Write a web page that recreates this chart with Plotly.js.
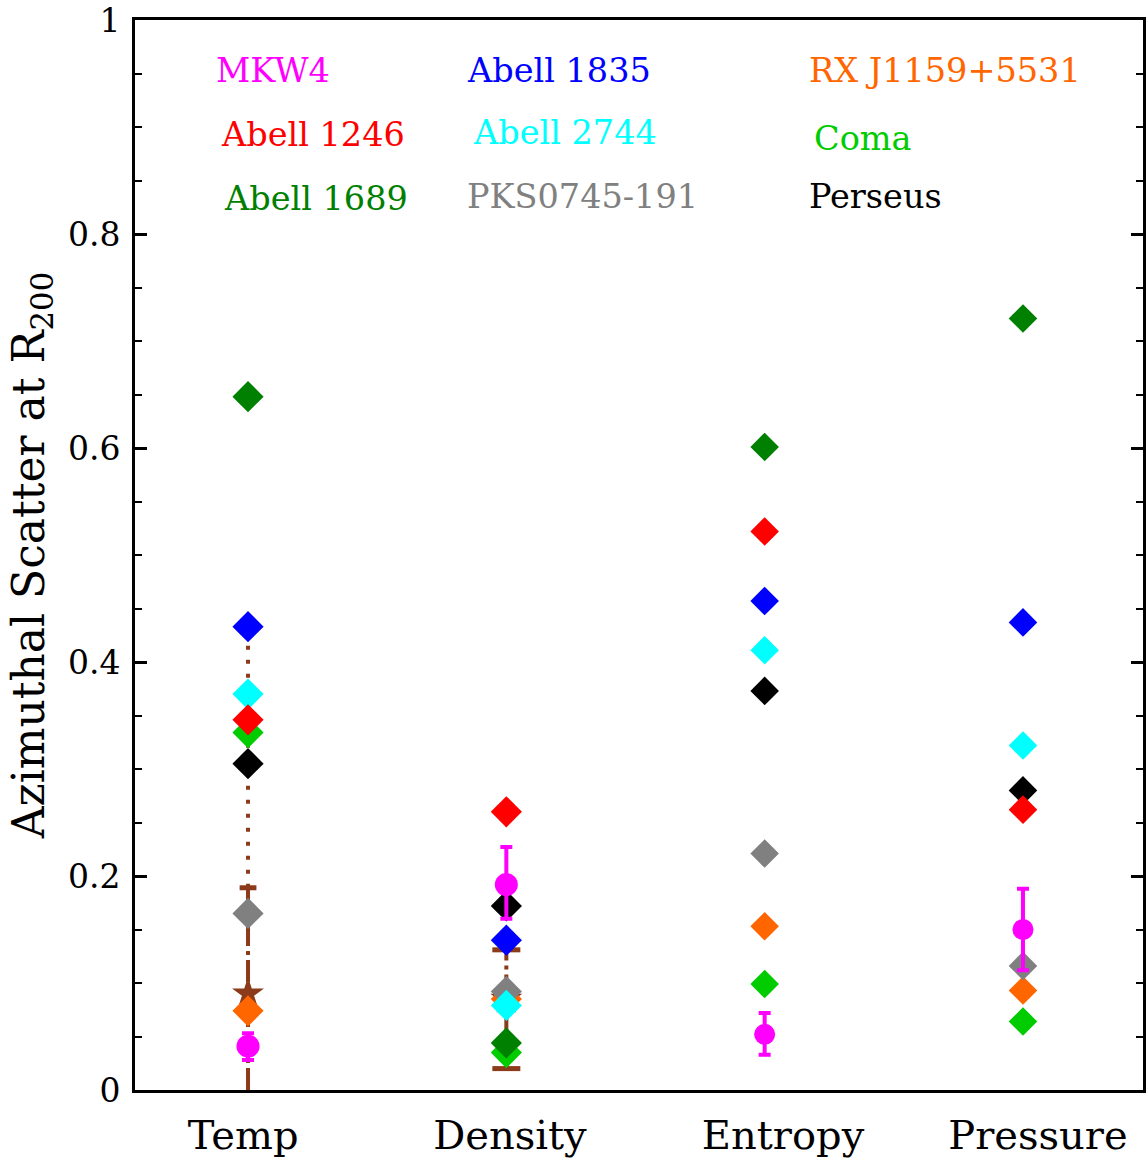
<!DOCTYPE html>
<html>
<head>
<meta charset="utf-8">
<script src="https://cdn.plot.ly/plotly-3.0.1.min.js"></script>
<style>
  html, body { margin: 0; padding: 0; background: #fff; }
  #chart { width: 1146px; height: 1159px; }
</style>
</head>
<body>
<div id="chart"></div>
<script>
// Quantities along the x axis
const categories = ['Temp', 'Density', 'Entropy', 'Pressure'];

// Azimuthal scatter at R200 for each cluster (Temp, Density, Entropy, Pressure)
const mkw4      = [0.041, 0.192, 0.052, 0.150];
const mkw4ErrUp = [0.012, 0.035, 0.020, 0.038];
const mkw4ErrDn = [0.013, 0.032, 0.019, 0.038];
const abell1246 = [0.346, 0.260, 0.522, 0.262];
const abell1689 = [0.648, 0.044, 0.601, 0.721];
const abell1835 = [0.433, 0.140, 0.457, 0.437];
const abell2744 = [0.370, 0.079, 0.411, 0.322];
const pks0745   = [0.165, 0.092, 0.221, 0.116];
const rxj1159   = [0.074, 0.085, 0.153, 0.093];
const coma      = [0.334, 0.035, 0.099, 0.064];
const perseus   = [0.305, 0.172, 0.373, 0.280];

// Simulation expectation (Temp, Density): central value and range
const simCategories = ['Temp', 'Density'];
const simValue = [0.090, 0.085];
const simLow   = [0.000, 0.020];
const simHigh  = [0.189, 0.131];
const simTempExtension = 0.444;   // dotted continuation above the Temp range

// Cluster names and colours, in label order
const clusterNames = ['MKW4', 'Abell 1246', 'Abell 1689', 'Abell 1835', 'Abell 2744',
                      'PKS0745-191', 'RX J1159+5531', 'Coma', 'Perseus'];
const clusterColors = ['#ff00ff', '#ff0000', '#008000', '#0000ff', '#00ffff',
                       '#808080', '#ff6600', '#00cc00', '#000000'];
const clusterValues = [mkw4, abell1246, abell1689, abell1835, abell2744,
                       pks0745, rxj1159, coma, perseus];

// Label anchor positions (paper coordinates) for the cluster names
const labelX = [0.078, 0.083, 0.086, 0.327, 0.333, 0.327, 0.667, 0.672, 0.667];
const labelY = [0.953, 0.893, 0.833, 0.953, 0.895, 0.835, 0.953, 0.889, 0.835];

const FONT = 'DejaVu Serif, Liberation Serif, serif';
const BROWN = '#8b3a1a';
const xpos = c => categories.indexOf(c) + 1;
const catX = categories.map(xpos);
// symbol sizes per column (the two right-hand columns use smaller symbols)
const diamondSize = [24, 24, 22, 22];
const circleSize = [23, 23, 21, 21];

const traces = [];

// Simulation ranges: dash-dot segments with end caps
simCategories.forEach((c, i) => {
  const x = xpos(c);
  traces.push({
    x: [x, x], y: [simLow[i], simHigh[i]], mode: 'lines',
    line: {color: BROWN, width: 4, dash: '22px,5px,4px,5px'},
    hoverinfo: 'skip', showlegend: false
  });
  const capY = simLow[i] > 0 ? [simLow[i], simHigh[i]] : [simHigh[i]];
  traces.push({
    x: capY.map(() => x), y: capY, mode: 'markers',
    marker: {symbol: 'line-ew', size: i === 0 ? 12 : 20, opacity: 1,
             line: {color: BROWN, width: 5}},
    hoverinfo: 'skip', showlegend: false
  });
});
// Dotted continuation of the Temp range
traces.push({
  x: [xpos('Temp'), xpos('Temp')], y: [simHigh[0], simTempExtension], mode: 'lines',
  line: {color: BROWN, width: 4, dash: '4px,10px'},
  hoverinfo: 'skip', showlegend: false
});
// Simulation central values
traces.push({
  x: simCategories.map(xpos), y: simValue, mode: 'markers',
  marker: {symbol: 'star', size: 24, color: BROWN, opacity: 1},
  hoverinfo: 'skip', showlegend: false
});

// Clusters drawn from the last name to the first, so MKW4 sits on top
for (let k = clusterNames.length - 1; k >= 0; k--) {
  const isMKW4 = clusterNames[k] === 'MKW4';
  const t = {
    x: catX, y: clusterValues[k], mode: 'markers', name: clusterNames[k],
    marker: {
      symbol: isMKW4 ? 'circle' : 'diamond',
      size: isMKW4 ? circleSize : diamondSize,
      color: clusterColors[k], opacity: 1, line: {width: 0}
    },
    showlegend: false, cliponaxis: false
  };
  if (isMKW4) {
    t.error_y = {type: 'data', symmetric: false, array: mkw4ErrUp, arrayminus: mkw4ErrDn,
                 color: clusterColors[k], thickness: 4, width: 6};
  }
  traces.push(t);
}

const annotations = clusterNames.map((n, k) => ({
  text: n, xref: 'paper', yref: 'paper', x: labelX[k], y: labelY[k],
  xanchor: 'left', yanchor: 'middle', showarrow: false,
  font: {family: FONT, size: 33.5, color: clusterColors[k]}
}));

const layout = {
  width: 1146, height: 1159,
  margin: {l: 135, r: 3, t: 20, b: 69},
  paper_bgcolor: '#ffffff', plot_bgcolor: '#ffffff',
  showlegend: false,
  font: {family: FONT, color: '#000'},
  xaxis: {
    range: [0.5625, 4.4646],
    tickvals: [0.981, 2.014, 3.071, 4.058],
    ticktext: categories,
    ticks: '', showgrid: false, zeroline: false,
    showline: true, linecolor: '#000', linewidth: 3, mirror: true,
    tickfont: {family: FONT, size: 40, color: '#000'},
    ticklabelstandoff: 8
  },
  yaxis: {
    range: [0, 1], dtick: 0.2, tick0: 0,
    ticks: 'inside', ticklen: 12, tickwidth: 3, tickcolor: '#000',
    minor: {dtick: 0.05, ticks: 'inside', ticklen: 7, tickwidth: 2, tickcolor: '#000', showgrid: false},
    showgrid: false, zeroline: false,
    showline: true, linecolor: '#000', linewidth: 3, mirror: 'allticks',
    tickfont: {family: FONT, size: 33, color: '#000'},
    ticklabelstandoff: 5,
    title: {text: 'Azimuthal Scatter at R<sub>200</sub>',
            font: {family: FONT, size: 44, color: '#000'}, standoff: 10}
  },
  annotations: annotations
};

Plotly.newPlot('chart', traces, layout, {staticPlot: true, displayModeBar: false});
</script>
</body>
</html>
